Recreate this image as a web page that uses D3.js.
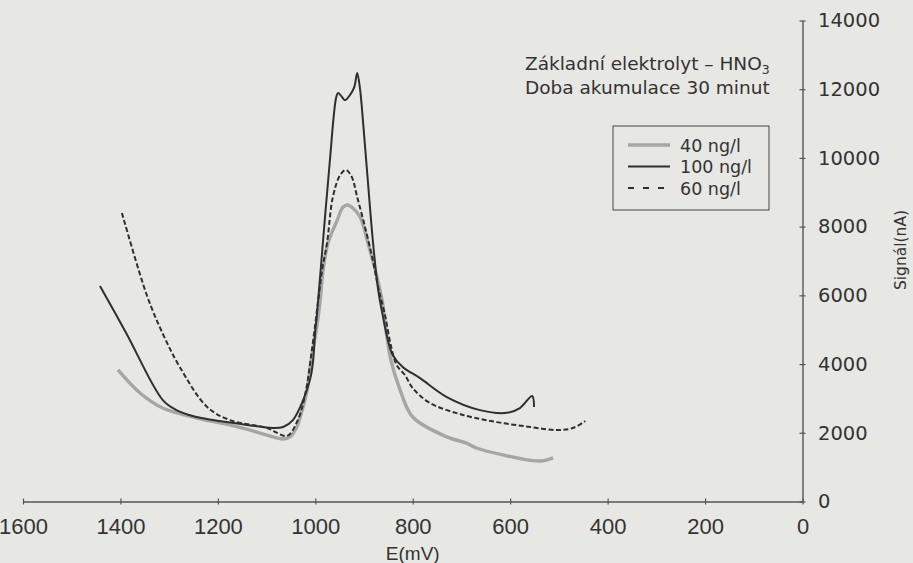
<!DOCTYPE html>
<html><head><meta charset="utf-8">
<script src="https://cdn.jsdelivr.net/npm/d3@7"></script>
<style>body{margin:0;background:#e7e7e4;} svg{display:block}</style>
</head><body><svg id="c" width="913" height="563"></svg>
<script>
const xTicks = [1600,1400,1200,1000,800,600,400,200,0];
const yTicks = [0,2000,4000,6000,8000,10000,12000,14000];
const seriesNames = ["40 ng/l","100 ng/l","60 ng/l"];
const titleLine1 = "Základní elektrolyt – HNO";
const titleSub = "3";
const titleLine2 = "Doba akumulace 30 minut";
const xTitle = "E(mV)";
const yTitle = "Signál(nA)";

const mV40 =     [1405,1360,1313,1243,1175,1120,1087,1066,1052,1038,1027,1017,1007,998,990,984,974,955,943,933,923,908,892,877,863,855,845,826,800,730,690,668,607,560,535,512];
const signal40 = [3830,3160,2720,2430,2230,2020,1880,1820,1880,2170,2660,3240,4260,4990,5860,6740,7520,8190,8570,8630,8540,8280,7520,6740,5860,4990,4120,3250,2460,1880,1700,1550,1330,1200,1180,1270];

const mV100 =     [1442,1388,1313,1285,1250,1210,1140,1087,1066,1046,1025,1011,1005,1000,997,984,970,957,953,945,939,929,920,914,908,904,894,882,871,861,851,841,820,785,730,662,607,580,555,551];
const signal100 = [6270,4900,2950,2660,2480,2370,2230,2140,2170,2370,2950,3540,4030,4990,5380,7610,9940,11770,11890,11770,11680,11830,12060,12470,11980,11390,9650,7610,6160,5370,4700,4260,3910,3590,3040,2660,2580,2720,3070,2750];

const mV60 =     [1397,1346,1313,1278,1222,1175,1099,1058,1036,1021,1007,994,986,976,964,949,937,925,914,898,882,871,857,845,833,816,800,765,697,627,559,504,471,446];
const signal60 = [8400,6010,4880,3910,2750,2370,2140,1910,2370,3100,4410,5860,6740,7520,8860,9500,9650,9440,8860,7990,7030,6240,5430,4550,3970,3680,3300,2870,2520,2310,2170,2080,2140,2340];

const svg = d3.select("#c");
const x = d3.scaleLinear().domain([1600,0]).range([23,802.5]);
const y = d3.scaleLinear().domain([0,14000]).range([501.5,20.5]);
const ink = "#333";

const series = [
  {name: seriesNames[0], mv: mV40, s: signal40, color: "#a6a6a6", width: 3.4, dash: null},
  {name: seriesNames[2], mv: mV60, s: signal60, color: "#2f2f2f", width: 2, dash: "5,2.5"},
  {name: seriesNames[1], mv: mV100, s: signal100, color: "#2f2f2f", width: 2, dash: null}
];

const line = d3.line().x(d => x(d[0])).y(d => y(d[1])).curve(d3.curveCatmullRom.alpha(0.5));
series.forEach(se => {
  const pts = se.mv.map((v,i) => [v, se.s[i]]);
  svg.append("path").attr("d", line(pts)).attr("fill","none")
    .attr("stroke", se.color).attr("stroke-width", se.width)
    .attr("stroke-linejoin","round").attr("stroke-linecap","butt")
    .attr("stroke-dasharray", se.dash);
});

// X axis
const gx = svg.append("g").attr("transform","translate(0,501.5)")
  .call(d3.axisBottom(x).tickValues(xTicks).tickFormat(d3.format("d")).tickSizeInner(3).tickSizeOuter(0));
gx.select(".domain").attr("stroke","#555").attr("stroke-width",1.4);
gx.selectAll(".tick line").attr("stroke","#555").attr("stroke-width",1.2).attr("y1",-3).attr("y2",3);
gx.selectAll(".tick text").attr("fill",ink).attr("y",17)
  .style("font-family","'Liberation Sans', Arial, sans-serif").style("font-size","22px");

// Y axis
const gy = svg.append("g").attr("transform","translate(802.5,0)")
  .call(d3.axisRight(y).tickValues(yTicks).tickFormat(d3.format("d")).tickSizeInner(3).tickSizeOuter(0));
gy.select(".domain").attr("stroke","#555").attr("stroke-width",1.4);
gy.selectAll(".tick line").attr("stroke","#555").attr("stroke-width",1.2).attr("x1",-3).attr("x2",3);
gy.selectAll(".tick text").attr("fill",ink).attr("x",15.5)
  .style("font-family","'DejaVu Sans', sans-serif").style("font-size","19.5px");

// axis titles
svg.append("text").attr("x", x(800)).attr("y", 560).attr("text-anchor","middle")
  .attr("fill",ink).style("font-family","'Liberation Sans', Arial, sans-serif").style("font-size","19px")
  .text(xTitle);
svg.append("text").attr("transform","translate(906,250) rotate(-90)").attr("text-anchor","middle")
  .attr("fill",ink).style("font-family","'DejaVu Sans', sans-serif").style("font-size","15.5px")
  .text(yTitle);

// annotation
const t1 = svg.append("text").attr("x",525).attr("y",70).attr("fill",ink)
  .style("font-family","'DejaVu Sans', sans-serif").style("font-size","18.5px");
t1.append("tspan").text(titleLine1);
t1.append("tspan").attr("dy",3.5).style("font-size","12.5px").text(titleSub);
svg.append("text").attr("x",525).attr("y",94).attr("fill",ink)
  .style("font-family","'DejaVu Sans', sans-serif").style("font-size","18.5px").text(titleLine2);

// legend
const lg = svg.append("g");
lg.append("rect").attr("x",613).attr("y",126).attr("width",156).attr("height",84)
  .attr("fill","none").attr("stroke","#444").attr("stroke-width",1);
const legOrder = [series[0], series[2], series[1]];
legOrder.forEach((se,i) => {
  const cy = 145 + i*21.5;
  lg.append("line").attr("x1",628).attr("x2",670).attr("y1",cy).attr("y2",cy)
    .attr("stroke",se.color).attr("stroke-width",se.width).attr("stroke-dasharray", se.dash ? "6,9" : null);
  lg.append("text").attr("x",680).attr("y",cy+6.5).attr("fill",ink)
    .style("font-family","'DejaVu Sans', sans-serif").style("font-size","17.5px").text(se.name);
});
</script>
</body></html>
